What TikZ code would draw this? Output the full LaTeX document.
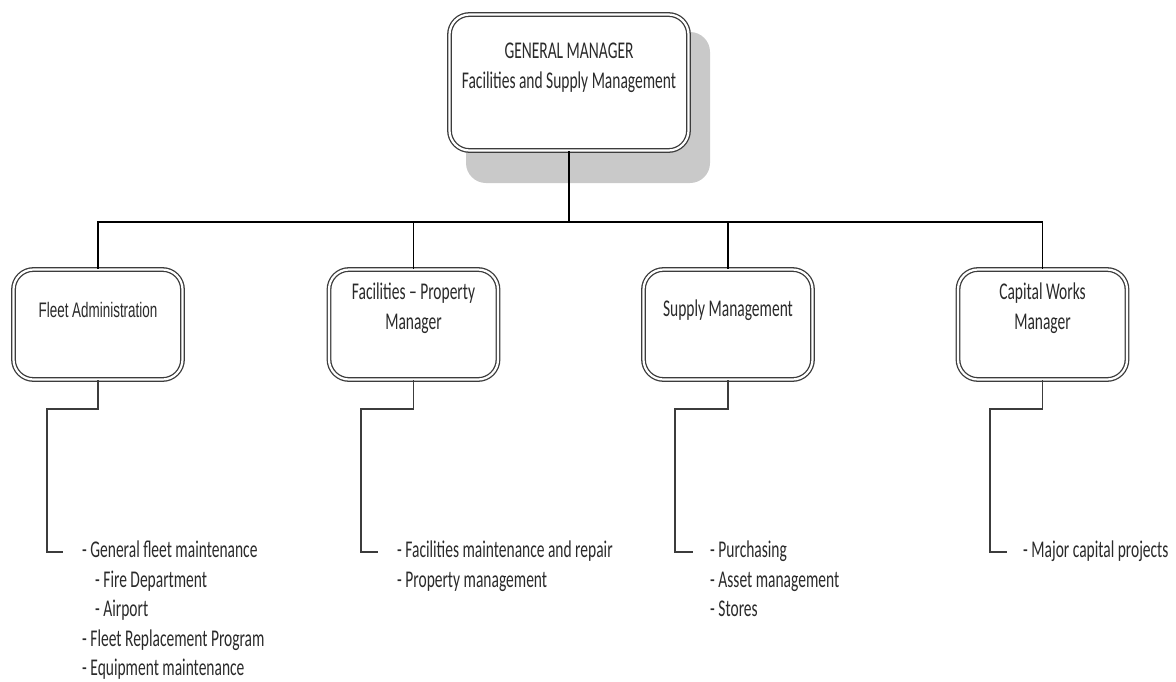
\documentclass[tikz,border=0pt]{standalone}
\usepackage{fontspec}
\newfontfamily\calfont[FakeStretch=0.645]{Carlito}
\newfontfamily\arfont[FakeStretch=0.64]{Liberation Sans}
\definecolor{ink}{HTML}{2A2A2A}
\definecolor{edge}{HTML}{3C3C3C}
\definecolor{shadowgray}{HTML}{C9C9C9}

\begin{document}
\begin{tikzpicture}[x=1pt,y=-1pt,
  orgbox/.style={draw=edge, line width=1.3pt, double=white, double distance=2.2pt,
    rounded corners=20pt, fill=white, minimum width=169pt, minimum height=110pt,
    inner sep=0pt},
  lbl/.style={text=ink, font=\calfont\fontsize{24}{30}\selectfont, inner sep=0pt, align=center},
  item/.style={text=ink, font=\calfont\fontsize{24}{30}\selectfont, inner sep=0pt, anchor=base west},
  link/.style={draw=edge, line width=1.8pt},
  trunk/.style={draw=black, line width=2.2pt},
  bar/.style={draw=black, line width=1.6pt},
]
\useasboundingbox (0,0) rectangle (1176,681);

% drop shadow behind the head box
\fill[shadowgray, rounded corners=20pt] (466,32) rectangle (710,183);

% head box
\node[orgbox, minimum width=239pt, minimum height=136pt] (gm) at (569,82.5) {};
\node[lbl] (gmtext) at (569,68) {GENERAL MANAGER\\Facilities and Supply Management};

% department boxes
\node[orgbox] (fa) at (98,324.5) {};
\node[orgbox] (fp) at (413.5,324.5) {};
\node[orgbox] (sm) at (728,324.5) {};
\node[orgbox] (cw) at (1042.5,324.5) {};

\node[text=ink, font=\arfont\fontsize{21}{28}\selectfont, inner sep=0pt] (fatext) at (98,310) {Fleet Administration};
\node[lbl] (fptext) at (413.5,308) {Facilities – Property\\Manager};
\node[lbl] (smtext) at (728,310) {Supply Management};
\node[lbl] (cwtext) at (1042.5,308) {Capital Works\\Manager};

% reporting lines
\coordinate (bus) at (569,222);
\draw[trunk] (gm.south) -- (bus);
\draw[bar] (fa.north) |- (bus) -| (cw.north);
\draw[bar] (fp.north) -- (fp.north |- bus);
\draw[bar] (sm.north) -- (sm.north |- bus);

% brackets leading to the duty lists
\coordinate (faelbow) at (47,409);   \coordinate (fatip) at (63,552);
\coordinate (fpelbow) at (361,409);  \coordinate (fptip) at (378,552);
\coordinate (smelbow) at (675,409);  \coordinate (smtip) at (693,552);
\coordinate (cwelbow) at (990,409);  \coordinate (cwtip) at (1007,552);
\draw[link] (fa.south) |- (faelbow) |- (fatip);
\draw[link] (fp.south) |- (fpelbow) |- (fptip);
\draw[link] (sm.south) |- (smelbow) |- (smtip);
\draw[link] (cw.south) |- (cwelbow) |- (cwtip);

% duty lists
\node[item] (fa1) at (82,557.5) {- General fleet maintenance};
\node[item] (fa2) at (95,587) {- Fire Department};
\node[item] (fa3) at (95,616.5) {- Airport};
\node[item] (fa4) at (82,646) {- Fleet Replacement Program};
\node[item] (fa5) at (82,675) {- Equipment maintenance};

\node[item] (fp1) at (397,557.5) {- Facilities maintenance and repair};
\node[item] (fp2) at (397,587) {- Property management};

\node[item] (sm1) at (710,557.5) {- Purchasing};
\node[item] (sm2) at (710,587) {- Asset management};
\node[item] (sm3) at (710,616.5) {- Stores};

\node[item] (cw1) at (1023,557.5) {- Major capital projects};
\end{tikzpicture}
\end{document}
